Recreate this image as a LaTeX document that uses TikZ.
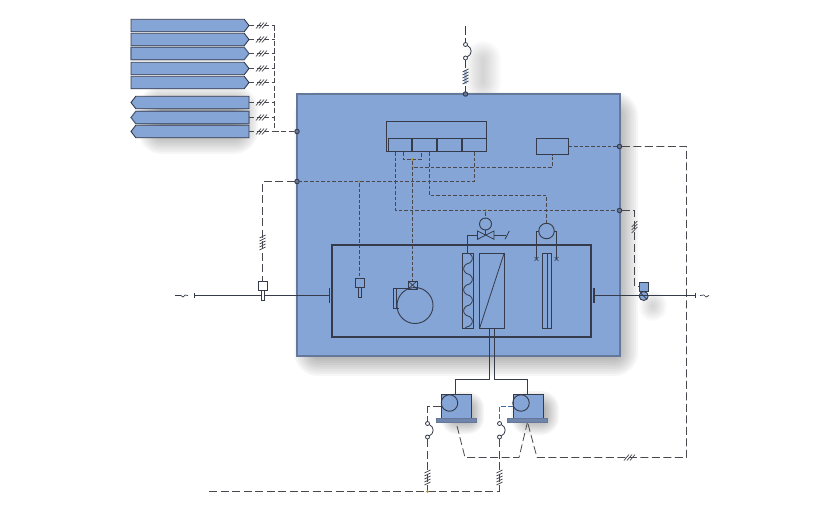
\documentclass[tikz,border=0pt]{standalone}
\usetikzlibrary{shapes.symbols,shapes.misc}
\definecolor{panel}{HTML}{84A5D5}
\definecolor{ink}{HTML}{363B4C}
\definecolor{edge}{HTML}{66789A}
\definecolor{dashc}{HTML}{4A474E}
\definecolor{gold}{HTML}{A8922E}
\definecolor{hot}{HTML}{3F6BA6}
\newcommand{\softshadow}[6][.036]{%
  \foreach \i in {0,...,11}{
    \pgfmathsetmacro{\d}{#6*(1-\i/5.5)}
    \pgfmathsetmacro{\rr}{max(0.1,#6+\d)}
    \fill[black,opacity=#1,rounded corners=\rr pt] (#2-\d,#3-\d) rectangle (#4+\d,#5+\d);
  }}
\tikzset{
  x=1pt,y=-1pt,
  tagbox/.style={signal,draw=ink,fill=panel,line width=.9pt,inner sep=0pt,outer sep=0pt,minimum width=118pt,minimum height=12.5pt,signal pointer angle=105},
  outtag/.style={tagbox,signal to=east,signal from=nowhere},
  intag/.style={tagbox,signal to=west,signal from=nowhere},
  wire/.style={draw=dashc,line width=.8pt,dash pattern=on 5pt off 2.5pt},
  wirein/.style={draw=dashc,line width=.9pt,dash pattern=on 3.6pt off 2pt},
  wireout/.style={draw=dashc,line width=.8pt,dash pattern=on 8pt off 3.5pt},
  unit/.style={draw=ink,line width=.9pt,inner sep=0pt,outer sep=0pt},
  port/.style={unit,rectangle,anchor=north west},
  dotn/.style={circle,draw=ink,fill=edge,line width=.9pt,inner sep=0pt,outer sep=0pt,minimum size=4.5pt},
  golddot/.style={circle,fill=gold,inner sep=0pt,minimum size=2.6pt},
  hashh/.pic={\draw[dashc,line width=.7pt] (-6,3)--(-1,-3) (-3,3)--(2,-3) (0,3)--(5,-3);},
  hashs/.pic={\draw[dashc,line width=.7pt] (-2.8,0)--(2.8,-6) (-2.8,3)--(2.8,-3) (-2.8,6)--(2.8,0);},
  hashv/.pic={\draw[dashc,line width=.8pt] (-3,-5)--(3,-8) (-3,-2)--(3,-5) (-3,1)--(3,-2) (-3,4)--(3,1) (-3,7)--(3,4);},
  switchp/.pic={\draw[ink,line width=.8pt] (1.6,.8) .. controls (7,3.5) and (7,10) .. (1.6,12.6);
     \draw[ink,line width=.8pt,fill=white] (0,0) circle (2) (0,13.5) circle (2);},
}
\begin{document}
\begin{tikzpicture}
\useasboundingbox (0,0) rectangle (840,520);
% shadows
\softshadow{150}{98}{246}{142}{12}
\softshadow{306}{104}{626}{364}{12}
\softshadow[.014]{474}{50}{492}{92}{9}
\softshadow{449}{400}{476}{426}{8}
\softshadow{520}{400}{550}{426}{9}
\softshadow[.016]{646}{298}{660}{314}{7}
% main panel
\node[draw=edge,fill=panel,line width=1.2pt,anchor=north west,inner sep=0pt,outer sep=0pt,minimum width=323pt,minimum height=262pt] (panel) at (297,94) {};
% tags
\node[outtag,anchor=west] (t1) at (131,25.5) {};
\node[outtag,anchor=west] (t2) at (131,39.5) {};
\node[outtag,anchor=west,draw=ink!65!panel,line width=1.2pt] (t3) at (131,53.5) {};
\node[outtag,anchor=west] (t4) at (131,68.5) {};
\node[outtag,anchor=west] (t5) at (131,82.5) {};
\node[intag,anchor=west] (t6) at (131,102.5) {};
\node[intag,anchor=west,draw=ink!65!panel,line width=1.2pt] (t7) at (131,117.5) {};
\node[intag,anchor=west] (t8) at (131,131.5) {};
% trunk
\coordinate (trtop) at (274.5,25.5);
\coordinate (trbot) at (274.5,131.5);
\node[dotn] (dA) at (297,131.5) {};
\foreach \n/\y in {t1/25.5,t2/39.5,t3/53.5,t4/68.5,t5/82.5,t6/102.5,t7/117.5,t8/131.5}{
  \draw[wire] (\n.east) -- (274.5,\y);
  \pic at (262,\y) {hashh};
}
\draw[wire] (trtop) -- (trbot) -- (dA);
% controller
\node[port,minimum width=100pt,minimum height=30pt] (ctl) at (386.5,121.5) {};
\node[port,minimum width=23pt,minimum height=13pt] (c1) at (388.5,138.5) {};
\node[port,minimum width=24pt,minimum height=13pt] (c2) at (412.5,138.5) {};
\node[port,minimum width=24pt,minimum height=13pt] (c3) at (437.5,138.5) {};
\node[port,minimum width=24pt,minimum height=13pt] (c4) at (462.5,138.5) {};
\node[port,minimum width=32pt,minimum height=16pt] (rb) at (536.5,138.5) {};
% AHU
\node[draw=ink,line width=1.7pt,anchor=north west,inner sep=0pt,outer sep=0pt,minimum width=259pt,minimum height=92pt] (ahu) at (332,245) {};
% control wiring
\node[dotn] (dB) at (297,181.5) {};
\node[dotn] (dC) at (619.5,146.5) {};
\node[dotn] (dD) at (619.5,210.5) {};
\node[golddot] (g1) at (412.5,159.5) {};
\node[golddot] (g2) at (412.5,167.5) {};
\node[golddot] (g3) at (359.5,181.5) {};
\node[golddot] (g4) at (485.5,210.5) {};
% sensors & devices
\node[port,fill=white,minimum width=9pt,minimum height=9pt] (s1) at (258,281.5) {};
\node[port,fill=panel,minimum width=9pt,minimum height=9pt] (s2) at (355,278.5) {};
\node[port,fill=panel,minimum width=9pt,minimum height=8pt] (dm) at (408,281) {};
\node[circle,unit,minimum size=36pt] (fan) at (415,305.5) {};
\node[circle,unit,minimum size=12pt] (vact) at (485.5,224) {};
\node[circle,unit,minimum size=15.5pt] (mot) at (546.5,231) {};
\node[port,fill=panel,minimum width=9.5pt,minimum height=9pt] (s3) at (639.2,282.3) {};
\node[circle,unit,fill=panel,minimum size=9pt] (s3c) at (643.7,296) {};
\draw[wirein] (395.5,152) -- (395.5,210.5) -- (dD);
\draw[wirein] (403.5,152) -- (403.5,159.5) -- (421.5,159.5) -- (421.5,152);
\draw[wirein] (g1) -- (dm.north);
\draw[wirein] (g2) -- (rb.south |- g2) -- (rb.south);
\draw[wirein] (429.5,152) -- (429.5,195.5) -- (546.5,195.5) -- (mot.north);
\draw[wirein] (474.5,152) -- (474.5,181.5) -- (dB);
\draw[wirein] (g3) -- (s2.north);
\draw[wirein] (g4) -- (vact.north);
\draw[wireout] (dB) -- (s1.north |- dB) -- (s1.north);
\pic at (262.5,243) {hashv};
\draw[wirein] (rb.east) -- (dC);
\draw[wireout] (dC) -- (686.5,146.5) -- (686.5,457.5) -- (537,457.5) -- (527.5,422);
\draw[wireout] (527.5,422) -- (519,457.5) -- (465,457.5) -- (456,422);
\pic at (630,457.5) {hashh};
\draw[wireout] (dD) -- (634.5,210.5) -- (634.5,286.5) -- (639.2,286.5);
\pic at (634.5,227) {hashs};
% ducts
\coordinate (dl1) at (195,295.5);
\coordinate (dl2) at (329,295.5);
\coordinate (dr1) at (594,295.5);
\coordinate (dr2) at (695,295.5);
\draw[ink,line width=1pt] (dl1) -- (dl2);
\draw[ink,line width=1pt] (dr1) -- (dr2);
\draw[ink,line width=1.3pt] (329.5,288) -- (329.5,303) (594,288) -- (594,303);
\draw[ink,line width=.7pt] (194.5,293) -- (194.5,298) (695,293) -- (695,298);
\draw[ink,line width=.7pt] (175,295.5) -- (181,295.5) -- (183,297) -- (185,295) -- (188,295.5);
\draw[ink,line width=.7pt] (700,295.5) -- (704,295) -- (706,297) -- (709,295.5);
% sensor probes
\node[port,fill=white,minimum width=3pt,minimum height=10pt] (p1) at (261,290.5) {};
\node[port,fill=panel,minimum width=3pt,minimum height=10pt] (p2) at (358,287.5) {};
\draw[ink,line width=.7pt] (s3c.north west) -- (s3c.south east);
% fan
\draw[ink,line width=.7pt] (dm.north west) -- (dm.south east) (dm.north east) -- (dm.south west);
\draw[ink,line width=.8pt] (409,288.5) -- (393,288.5) -- (393,308.5) -- (398.5,308.5);
\draw[ink,line width=.8pt] (396,288.5) -- (396,308.5);
% humidifier coil
\node[port,minimum width=11pt,minimum height=75pt] (hum) at (462.5,253.5) {};
\draw[ink,line width=.8pt] plot[samples=150,domain=253.5:328.5,variable=\t] ({468+4.3*(sin(17.14*(\t-253))<0?-1:1)*pow(abs(sin(17.14*(\t-253)))+.001,.6)},\t);
\node[port,minimum width=24.5pt,minimum height=75pt] (coil) at (479.5,253.5) {};
\draw[ink,line width=.8pt] (coil.south west) -- (coil.north east);
\node[port,minimum width=9pt,minimum height=75pt] (filt) at (542,253.5) {};
\draw[ink,line width=.8pt] (547.5,253.5) -- (547.5,328.5);
% valve
\coordinate (vc) at (485.5,235);
\draw[ink,line width=.8pt] (vc) -- (477.5,231) -- (477.5,239.3) -- (494,231) -- (494,239.3) -- cycle;
\draw[ink,line width=.8pt] (vact.south) -- (vc);
\draw[ink,line width=.8pt] (477.5,235) -- (467.5,235) -- (467.5,253);
\draw[ink,line width=.8pt] (494,235) -- (506,235);
\draw[ink,line width=.8pt] (505,239.3) -- (509.3,231);
% motor
\draw[ink,line width=.8pt] (mot.west) -- (536.5,231) -- (536.5,259) (mot.east) -- (556.5,231) -- (556.5,259);
\draw[ink,line width=.6pt] (534.5,257) -- (538.5,261) (534.5,261) -- (538.5,257) (554.5,257) -- (558.5,261) (554.5,261) -- (558.5,257);
% pumps
\node[port,fill=panel,minimum width=30pt,minimum height=24pt] (pu1) at (441,394) {};
\node[port,fill=panel,minimum width=30pt,minimum height=24pt] (pu2) at (513,394) {};
\node[port,fill=edge!70!panel,minimum width=40pt,minimum height=3.5pt,draw=edge] (ba1) at (436,418.5) {};
\node[port,fill=edge!70!panel,minimum width=40pt,minimum height=3.5pt,draw=edge] (ba2) at (507.5,418.5) {};
\node[circle,unit,minimum size=16.5pt] (pc1) at (449.5,403) {};
\node[circle,unit,minimum size=16.5pt] (pc2) at (521,403) {};
\draw[ink,line width=.8pt] (489.5,329) -- (489.5,379.5) -- (455.5,379.5) -- (455.5,394);
\draw[ink,line width=.8pt] (494.5,329) -- (494.5,379.5) -- (527.5,379.5) -- (527.5,394);
% pump controls
\coordinate (k1) at (441,406.5);
\coordinate (k2) at (513,406.5);
\draw[wireout] (k1) -- (427.5,406.5) -- (427.5,421);
\draw[hot,line width=1.5pt,dash pattern=on 5pt off 2pt] (k2) -- (499.5,406.5) -- (499.5,421);
\pic at (427.5,423.5) {switchp};
\pic at (499.5,423.5) {switchp};
\draw[wireout] (427.5,439) -- (427.5,491);
\draw[wireout] (499.5,439) -- (499.5,491);
\pic at (427.5,478) {hashv};
\pic at (499.5,478) {hashv};
\coordinate (bl) at (209,491.5);
\draw[wireout] (bl) -- (499.5,491.5);
\node[golddot] (g5) at (427.5,491.5) {};
% top feed
\coordinate (tf) at (465.5,26);
\node[dotn] (dE) at (465.5,94) {};
\draw[draw=ink,line width=1pt,dash pattern=on 9pt off 2.5pt] (tf) -- (465.5,42);
\pic at (465.5,44.5) {switchp};
\draw[draw=ink,line width=1pt] (465.5,60) -- (465.5,68);
\draw[hot!40!white,line width=3.5pt] (465.5,70) -- (465.5,84);
\pic at (465.5,77) {hashv};
\draw[draw=ink,line width=1pt] (465.5,86) -- (dE);
\end{tikzpicture}
\end{document}
